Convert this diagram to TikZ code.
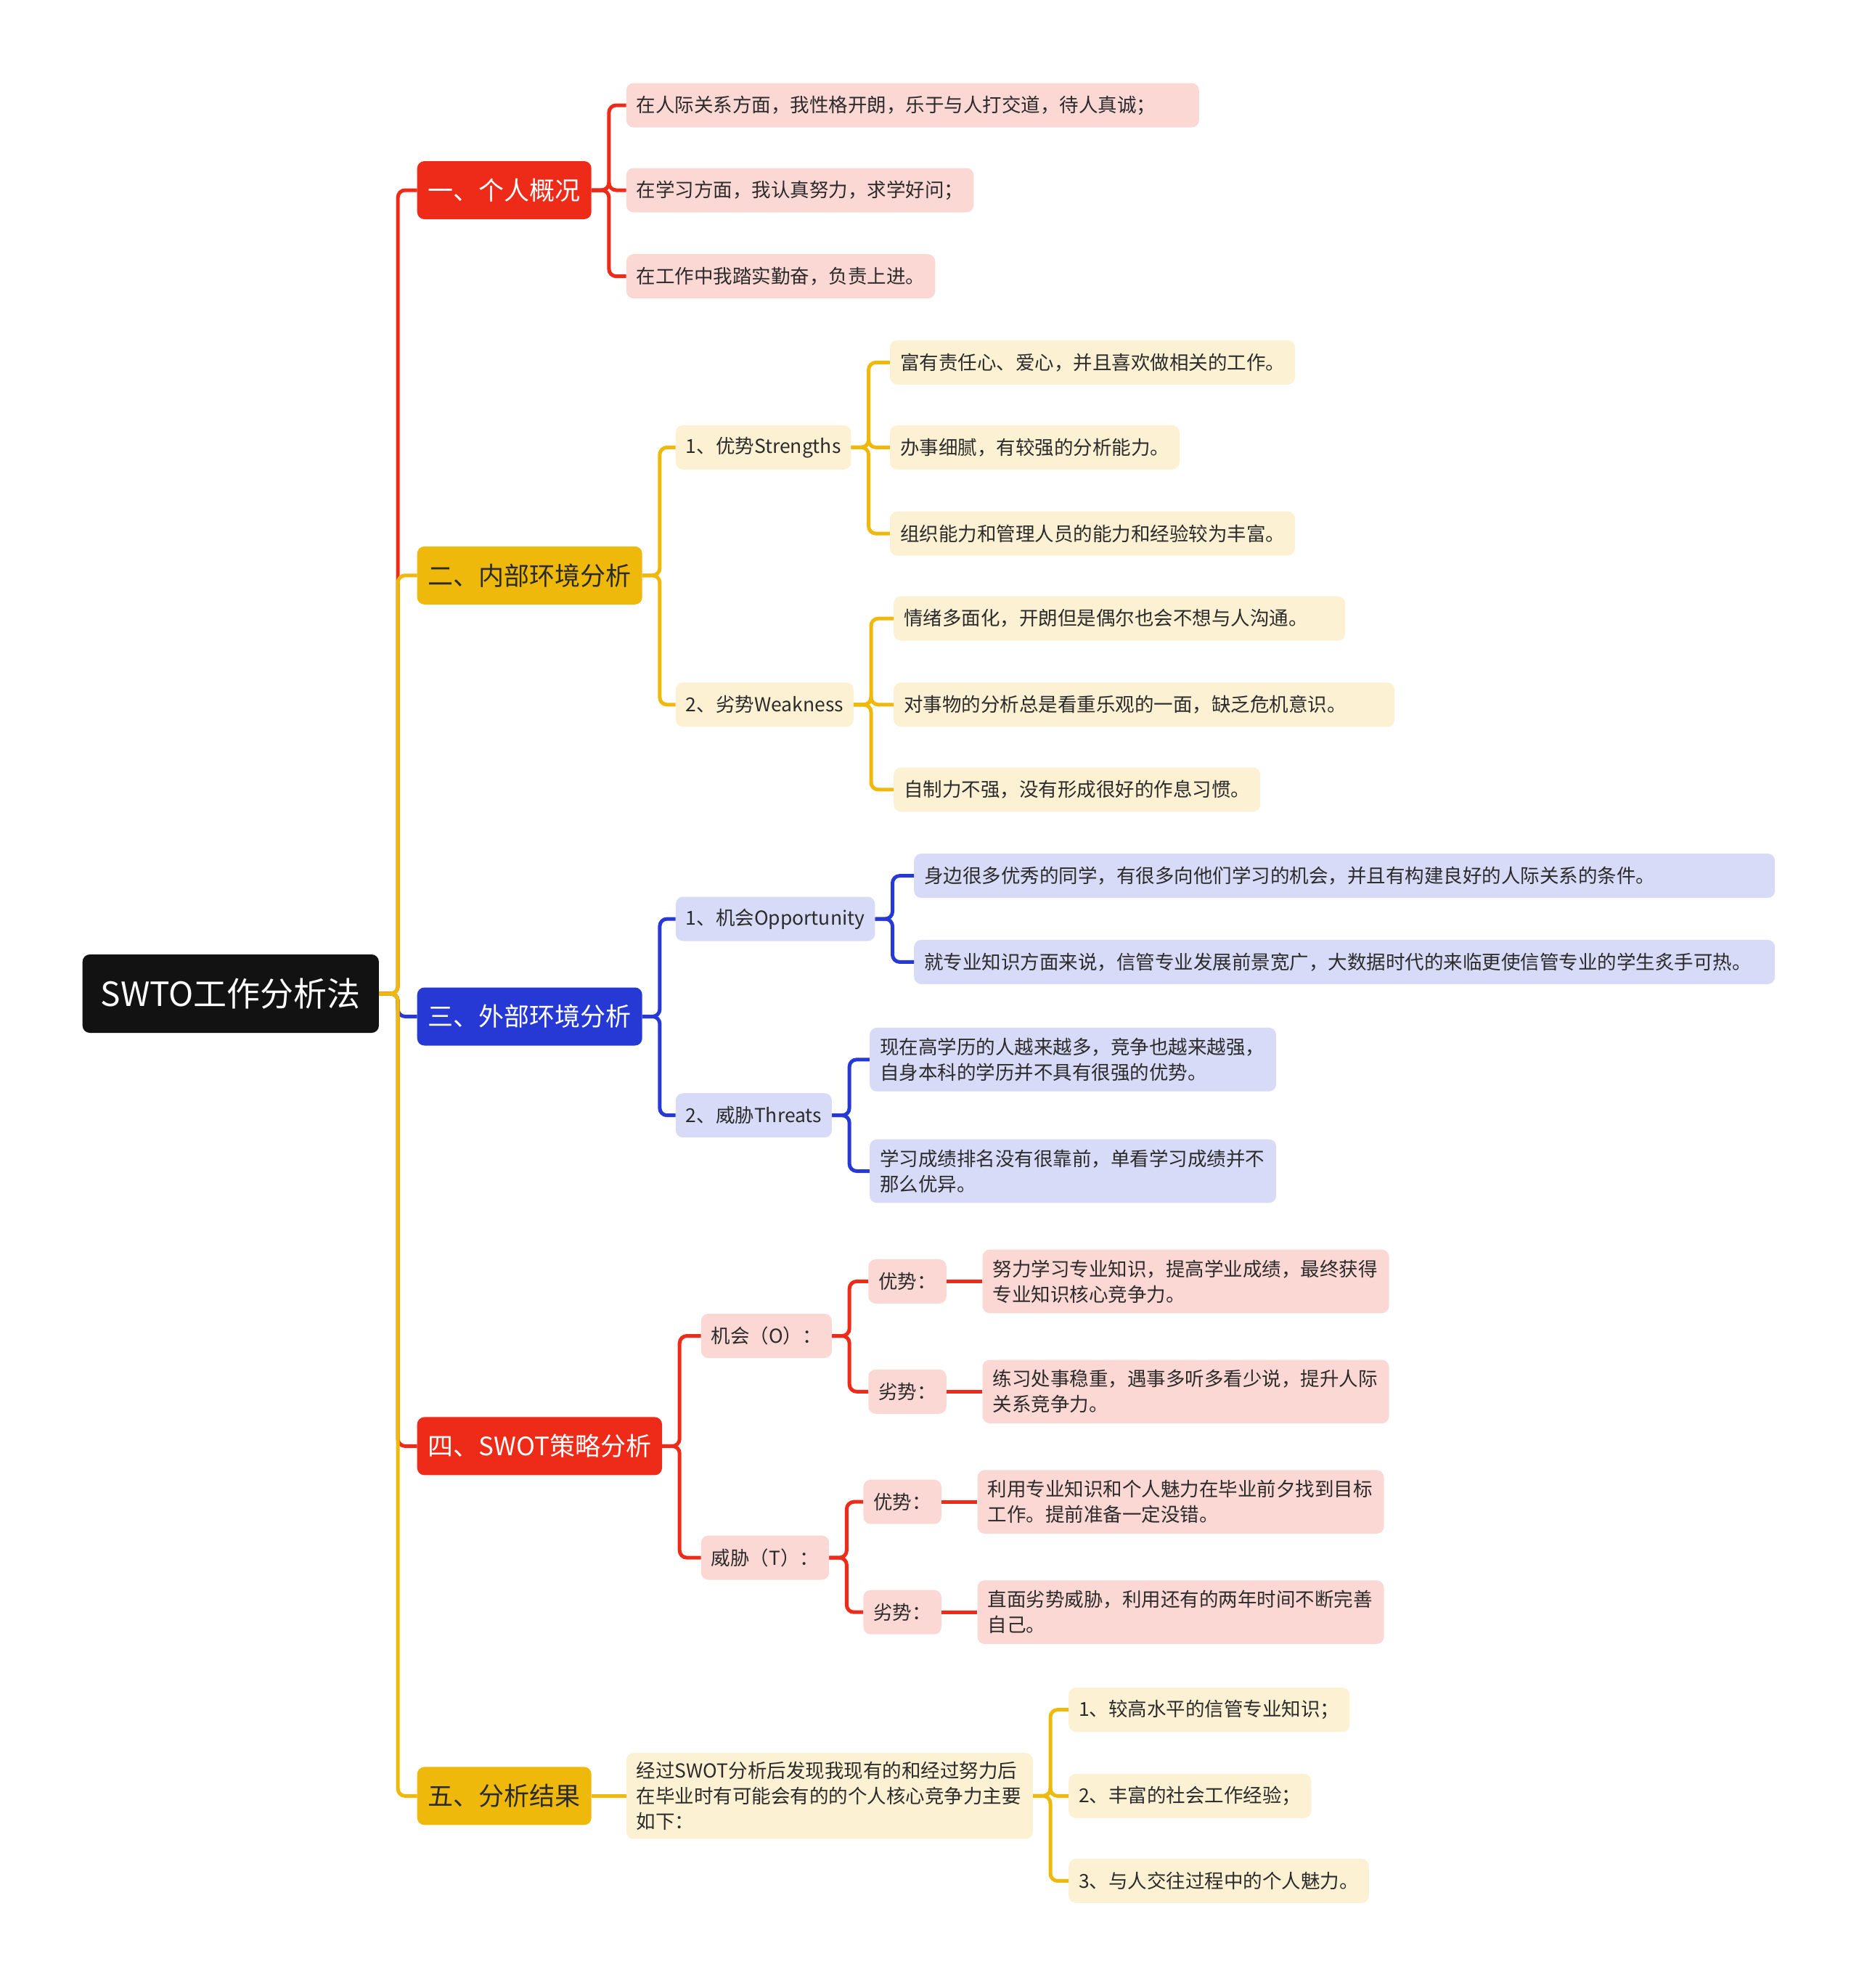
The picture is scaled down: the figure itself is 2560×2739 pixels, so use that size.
\documentclass[tikz,border=0pt]{standalone}
\usepackage{fontspec}
\setmainfont{Noto Sans CJK SC}
\usetikzlibrary{positioning}
\definecolor{mapRed}{HTML}{EE2B18}
\definecolor{mapRedLt}{HTML}{FCD8D4}
\definecolor{mapYel}{HTML}{EFB90C}
\definecolor{mapYelLt}{HTML}{FDF1D4}
\definecolor{mapBlu}{HTML}{2639D4}
\definecolor{mapBluLt}{HTML}{D8DBF7}
\definecolor{mapInk}{HTML}{2B2B2B}
\tikzset{
  box/.style={
    rectangle, rounded corners=10pt, anchor=west, align=left,
    inner xsep=14pt, inner ysep=14pt, minimum height=61pt,
    font=\fontsize{26.5}{35}\selectfont, text=mapInk
  },
  root/.style={box, fill=black!93, text=white, inner xsep=25pt,
    minimum height=108pt, font=\fontsize{46}{52}\selectfont},
  topic/.style={box, inner xsep=15pt, minimum height=80pt,
    font=\fontsize{35}{42}\selectfont},
  topicR/.style={topic, fill=mapRed, text=white},
  topicY/.style={topic, fill=mapYel},
  topicB/.style={topic, fill=mapBlu, text=white},
  leafR/.style={box, fill=mapRedLt},
  leafY/.style={box, fill=mapYelLt},
  leafB/.style={box, fill=mapBluLt},
  ln/.style={line width=5pt, rounded corners=10pt},
  lnR/.style={ln, draw=mapRed},
  lnY/.style={ln, draw=mapYel},
  lnB/.style={ln, draw=mapBlu}
}
\begin{document}
\begin{tikzpicture}[x=1pt,y=-1pt]
  \useasboundingbox (0,0) rectangle (2560,2739);

  % root
  \node[root] (root) at (113.5,1369) {SWTO工作分析法};

  % 一
  \node[topicR] (gk) at (574.5,262) {一、个人概况};
  \node[leafR, text width=761pt] (gk1) at (862.6,145) {在人际关系方面，我性格开朗，乐于与人打交道，待人真诚；};
  \node[leafR] (gk2) at (862.6,262) {在学习方面，我认真努力，求学好问；};
  \node[leafR] (gk3) at (862.6,380.7) {在工作中我踏实勤奋，负责上进。};

  % 二
  \node[topicY] (nb) at (574.5,792.8) {二、内部环境分析};
  \node[leafY] (ys) at (930.7,616.4) {1、优势Strengths};
  \node[leafY] (ls) at (930.7,970.9) {2、劣势Weakness};
  \node[leafY] (ys1) at (1225.8,499.4) {富有责任心、爱心，并且喜欢做相关的工作。};
  \node[leafY] (ys2) at (1225.8,616.4) {办事细腻，有较强的分析能力。};
  \node[leafY] (ys3) at (1225.8,735.1) {组织能力和管理人员的能力和经验较为丰富。};
  \node[leafY, text width=594pt] (ls1) at (1231,852.1) {情绪多面化，开朗但是偶尔也会不想与人沟通。};
  \node[leafY, text width=662pt] (ls2) at (1231,970.9) {对事物的分析总是看重乐观的一面，缺乏危机意识。};
  \node[leafY] (ls3) at (1231,1087.9) {自制力不强，没有形成很好的作息习惯。};

  % 三
  \node[topicB] (wb) at (574.5,1400.5) {三、外部环境分析};
  \node[leafB] (jh) at (930.7,1266) {1、机会Opportunity};
  \node[leafB] (wx) at (930.7,1536.7) {2、威胁Threats};
  \node[leafB, text width=1158pt] (jh1) at (1259,1206.6) {身边很多优秀的同学，有很多向他们学习的机会，并且有构建良好的人际关系的条件。};
  \node[leafB, text width=1158pt] (jh2) at (1259,1325.4) {就专业知识方面来说，信管专业发展前景宽广，大数据时代的来临更使信管专业的学生炙手可热。};
  \node[leafB, text width=532pt] (wx1) at (1197.9,1459.8) {现在高学历的人越来越多，竞争也越来越强，\\自身本科的学历并不具有很强的优势。};
  \node[leafB, text width=532pt] (wx2) at (1197.9,1613.5) {学习成绩排名没有很靠前，单看学习成绩并不\\那么优异。};

  % 四
  \node[topicR] (cl) at (574.5,1992.4) {四、SWOT策略分析};
  \node[leafR] (co) at (965.6,1840.5) {机会（O）：};
  \node[leafR] (ct) at (965.6,2146.1) {威胁（T）：};
  \node[leafR] (coy) at (1196.1,1765.4) {优势：};
  \node[leafR] (col) at (1196.1,1917.3) {劣势：};
  \node[leafR, text width=532pt] (coy1) at (1353.3,1765.4) {努力学习专业知识，提高学业成绩，最终获得\\专业知识核心竞争力。};
  \node[leafR, text width=532pt] (col1) at (1353.3,1917.3) {练习处事稳重，遇事多听多看少说，提升人际\\关系竞争力。};
  \node[leafR] (cty) at (1189.2,2069.2) {优势：};
  \node[leafR] (ctl) at (1189.2,2221.2) {劣势：};
  \node[leafR, text width=532pt] (cty1) at (1346.3,2069.2) {利用专业知识和个人魅力在毕业前夕找到目标\\工作。提前准备一定没错。};
  \node[leafR, text width=532pt] (ctl1) at (1346.3,2221.2) {直面劣势威胁，利用还有的两年时间不断完善\\自己。};

  % 五
  \node[topicY] (jg) at (574.5,2474.4) {五、分析结果};
  \node[leafY, text width=532pt, inner ysep=12pt] (jg0) at (862.6,2474.4) {经过SWOT分析后发现我现有的和经过努力后\\在毕业时有可能会有的的个人核心竞争力主要\\如下：};
  \node[leafY] (jg1) at (1472,2355.6) {1、较高水平的信管专业知识；};
  \node[leafY] (jg2) at (1472,2474.4) {2、丰富的社会工作经验；};
  \node[leafY] (jg3) at (1472,2591.4) {3、与人交往过程中的个人魅力。};

  % trunk (yellow ones last, they lie on top)
  \draw[lnR] (root.east) -- ++(26,0) |- (gk.west);
  \draw[lnB] (root.east) -- ++(26,0) |- (wb.west);
  \draw[lnR] (root.east) -- ++(26,0) |- (cl.west);
  \draw[lnY] (root.east) -- ++(26,0) |- (nb.west);
  \draw[lnY] (root.east) -- ++(26,0) |- (jg.west);

  % branches
  \foreach \c in {gk1,gk2,gk3} \draw[lnR] (gk.east) -- ++(24,0) |- (\c.west);
  \foreach \c in {ys,ls} \draw[lnY] (nb.east) -- ++(24,0) |- (\c.west);
  \foreach \c in {ys1,ys2,ys3} \draw[lnY] (ys.east) -- ++(24,0) |- (\c.west);
  \foreach \c in {ls1,ls2,ls3} \draw[lnY] (ls.east) -- ++(24,0) |- (\c.west);
  \foreach \c in {jh,wx} \draw[lnB] (wb.east) -- ++(24,0) |- (\c.west);
  \foreach \c in {jh1,jh2} \draw[lnB] (jh.east) -- ++(24,0) |- (\c.west);
  \foreach \c in {wx1,wx2} \draw[lnB] (wx.east) -- ++(24,0) |- (\c.west);
  \foreach \c in {co,ct} \draw[lnR] (cl.east) -- ++(24,0) |- (\c.west);
  \foreach \c in {coy,col} \draw[lnR] (co.east) -- ++(24,0) |- (\c.west);
  \foreach \c in {cty,ctl} \draw[lnR] (ct.east) -- ++(24,0) |- (\c.west);
  \draw[lnR] (coy.east) -- (coy1.west);
  \draw[lnR] (col.east) -- (col1.west);
  \draw[lnR] (cty.east) -- (cty1.west);
  \draw[lnR] (ctl.east) -- (ctl1.west);
  \draw[lnY] (jg.east) -- (jg0.west);
  \foreach \c in {jg1,jg2,jg3} \draw[lnY] (jg0.east) -- ++(24,0) |- (\c.west);
\end{tikzpicture}
\end{document}
